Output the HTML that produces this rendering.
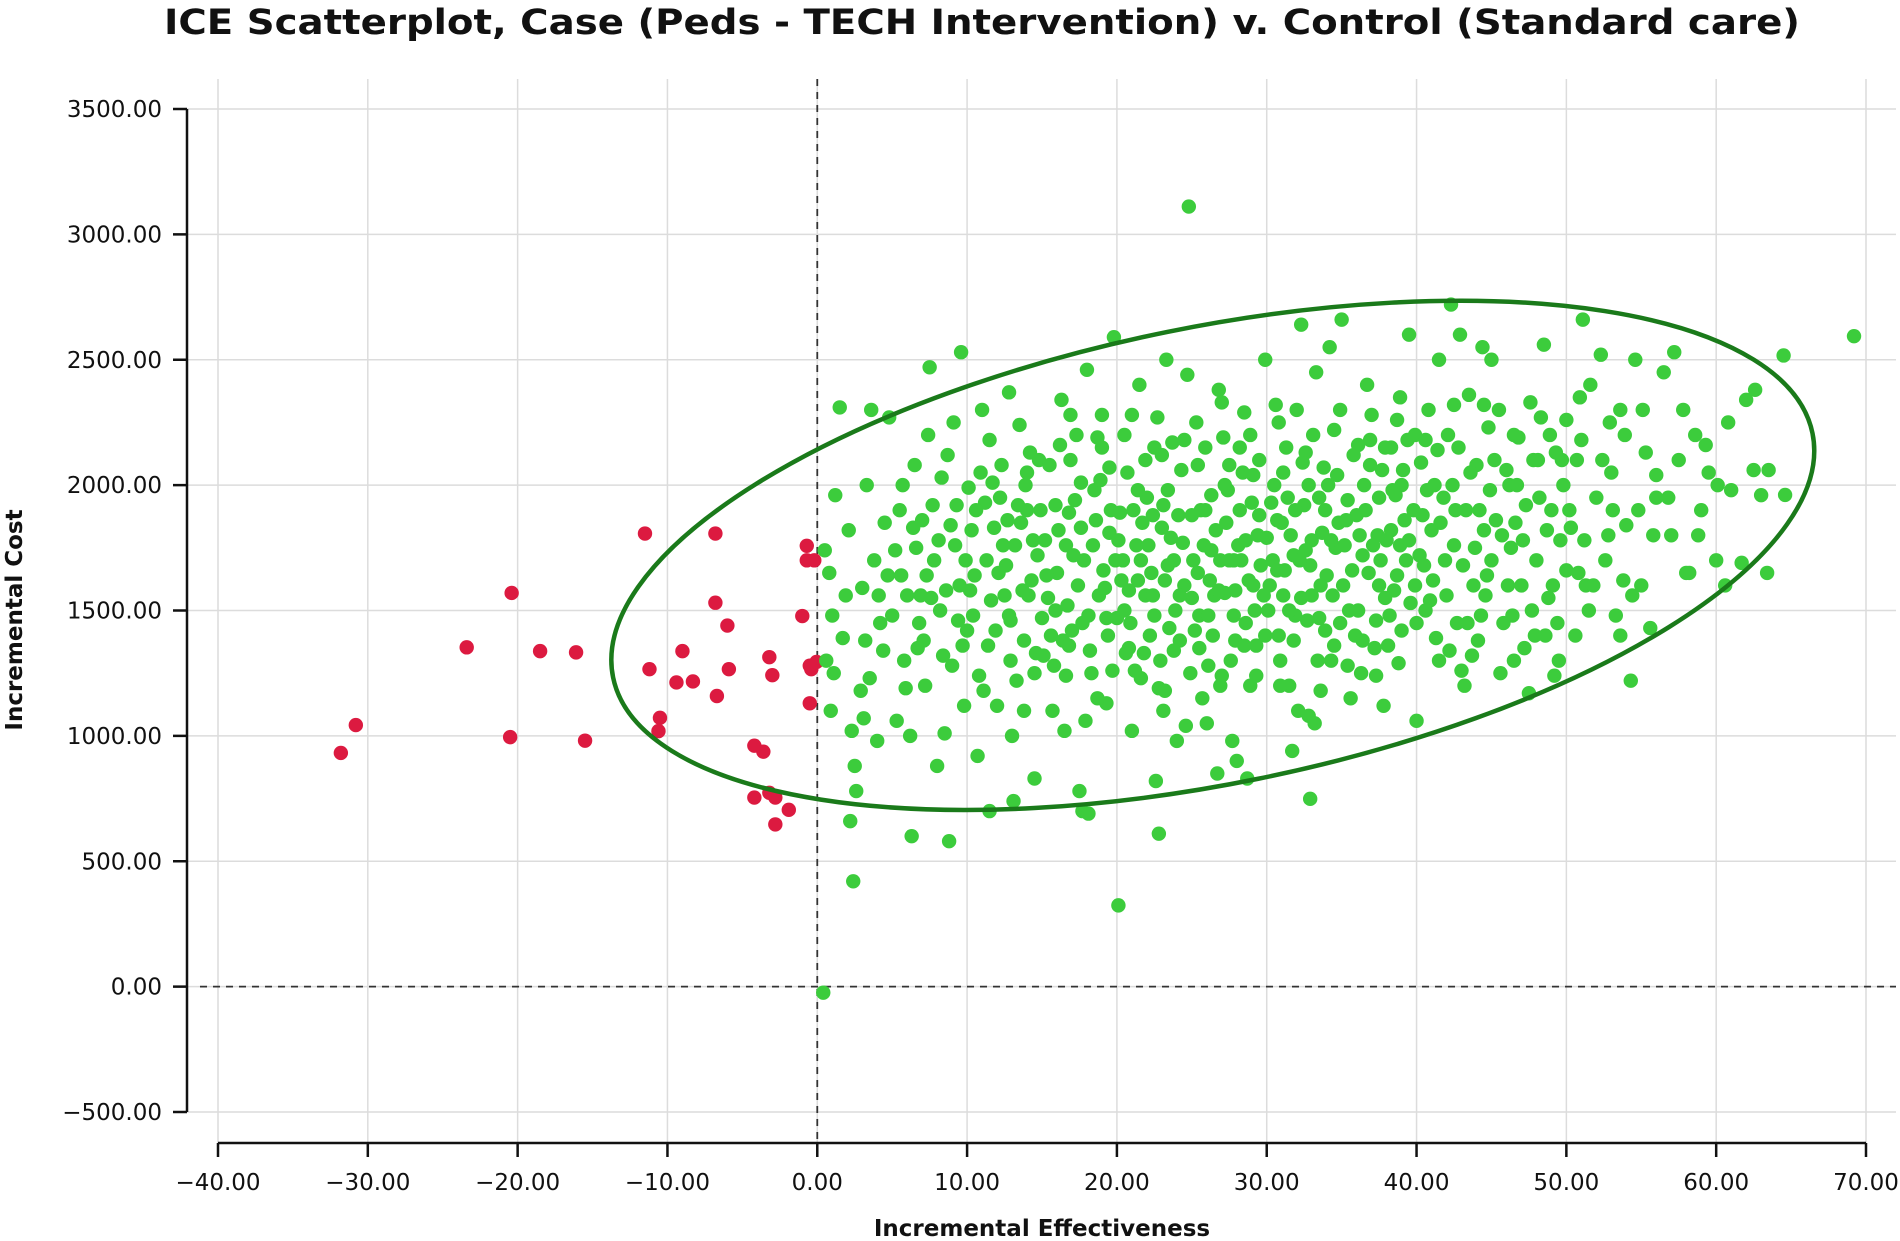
<!DOCTYPE html>
<html><head><meta charset="utf-8"><style>
html,body{margin:0;padding:0;background:#fff;}
svg{display:block;}
text{font-family:"DejaVu Sans","Liberation Sans",sans-serif;fill:#111;}
</style></head><body>
<svg id="chart" width="1900" height="1241" viewBox="0 0 1900 1241" xmlns="http://www.w3.org/2000/svg">
<text x="982" y="34" text-anchor="middle" font-size="35" font-weight="bold" textLength="1636" lengthAdjust="spacingAndGlyphs">ICE Scatterplot, Case (Peds - TECH Intervention) v. Control (Standard care)</text>
<g id="grid"></g>
<g id="axes"></g>
<g id="points"></g>
<text x="1042" y="1236" text-anchor="middle" font-size="23" font-weight="bold">Incremental Effectiveness</text>
<text transform="translate(22,620) rotate(-90)" text-anchor="middle" font-size="23" font-weight="bold">Incremental Cost</text>
</svg>
<script>
const xTicks=[-40,-30,-20,-10,0,10,20,30,40,50,60,70];
const yTicks=[-500,0,500,1000,1500,2000,2500,3000,3500];
const redX=[-31.8,-30.8,-23.4,-20.4,-20.5,-18.5,-16.1,-15.5,-11.5,-11.2,-10.5,-10.6,-9.4,-9.0,-8.3,-6.8,-6.8,-6.7,-6.0,-5.9,-4.2,-3.6,-4.2,-3.2,-2.8,-2.8,-1.9,-3.2,-3.0,-1.0,-0.7,-0.7,-0.2,-0.5,-0.4,-0.5,-0.05];
const redY=[932,1043,1353,1570,995,1338,1333,981,1807,1266,1072,1019,1213,1338,1217,1807,1531,1159,1440,1266,961,937,754,773,754,647,705,1314,1242,1478,1758,1700,1700,1130,1266,1280,1295];
const greenPts=[[0.5,1740],[0.8,1650],[1.0,1480],[1.2,1960],[1.5,2310],[0.6,1300],[0.9,1100],[1.7,1390],[2.1,1820],[2.3,1020],[2.5,880],[2.6,780],[3.0,1590],[3.3,2000],[3.5,1230],[3.8,1700],[4.0,980],[4.2,1450],[4.5,1850],[4.8,2270],[2.9,1180],[3.6,2300],[1.9,1560],[4.4,1340],[2.2,660],[2.4,420],[0.4,-24],[1.1,1250],[3.1,1070],[4.7,1640],
[5.2,1740],[5.5,1900],[5.8,1300],[6.0,1560],[6.3,600],[6.5,2080],[6.8,1450],[7.0,1860],[7.2,1200],[7.5,2470],[7.8,1700],[8.0,880],[8.3,2030],[8.6,1580],[8.8,580],[9.0,1280],[9.3,1920],[9.6,2530],[9.8,1120],[5.6,1640],[6.2,1000],[7.1,1380],[8.1,1780],[9.1,2250],[9.9,1700],[5.9,1190],[6.9,1560],[7.4,2200],[8.5,1010],[9.4,1460],[5.3,1060],[7.7,1920],[8.9,1840],[6.6,1750],[9.7,1360],
[10.1,1990],[10.4,1480],[10.8,1240],[11.0,2300],[11.3,1700],[11.5,700],[11.8,1830],[12.0,1120],[12.3,2080],[12.5,1560],[12.8,2370],[13.0,1000],[13.2,1760],[13.5,2240],[13.8,1380],[14.0,1900],[14.3,1620],[14.5,830],[14.8,2100],[15.0,1470],[10.3,1820],[10.7,920],[11.6,1540],[12.2,1950],[12.9,1300],[13.6,1850],[14.2,2130],[14.7,1720],[10.9,2050],[11.9,1420],[12.6,1680],[13.3,1220],[14.1,1560],[11.2,1930],[13.9,2000],[12.4,1760],[10.5,1640],[14.6,1330],[13.1,740],[12.7,1860],
[15.2,1780],[15.5,2080],[15.8,1280],[16.0,1650],[16.3,2340],[16.5,1020],[16.8,1890],[17.0,1420],[17.3,2200],[17.5,780],[17.8,1700],[18.0,2460],[18.3,1250],[18.5,1980],[18.8,1560],[19.0,2280],[19.3,1130],[19.5,1810],[19.8,2590],[20.0,1470],[15.4,1550],[15.9,1920],[16.4,1380],[16.9,2100],[17.4,1600],[17.9,1060],[18.4,1760],[18.9,2020],[19.4,1400],[19.9,1700],[15.7,1100],[16.6,1760],[17.2,1940],[18.2,1340],[19.2,1590],[16.2,2160],[17.7,700],[18.7,2190],[19.6,1900],[15.1,1320],[20.1,324],[18.1,690],[16.7,1520],[17.6,1830],[19.7,1260],
[20.2,1890],[20.5,2200],[20.8,1580],[21.0,1020],[21.3,1760],[21.5,2400],[21.8,1330],[22.0,1950],[22.3,1650],[22.5,2150],[22.8,1190],[23.0,1830],[23.3,2500],[23.5,1430],[23.8,1700],[24.0,980],[24.3,2060],[24.5,1600],[24.8,3111],[25.0,1880],[20.4,1700],[20.9,1450],[21.4,1980],[21.9,1560],[22.4,1880],[22.9,1300],[23.4,1980],[23.9,1500],[24.4,1770],[24.9,1250],[20.7,2050],[21.2,1260],[21.7,1850],[22.2,1400],[22.7,2270],[23.2,1620],[23.7,2170],[24.2,1380],[24.7,2440],[20.3,1620],[22.6,820],[23.1,1100],[22.8,610],[24.6,1040],[21.6,1700],[23.6,1790],[20.6,1330],[25.0,1550],
[25.3,2250],[25.5,1350],[25.8,1760],[26.0,1050],[26.3,1960],[26.5,1560],[26.8,2380],[27.0,1240],[27.3,1850],[27.5,2080],[27.8,1480],[28.0,900],[28.3,1700],[28.5,2290],[28.8,1620],[29.0,1930],[29.3,1360],[29.5,2100],[29.8,1560],[30.0,1790],[25.4,1650],[25.9,2150],[26.4,1400],[26.9,1700],[27.4,1980],[27.9,1580],[28.4,2050],[28.9,1200],[29.4,1800],[29.9,2500],[25.6,1900],[26.1,1280],[26.6,1820],[27.1,2190],[27.6,1300],[28.1,1760],[28.6,1450],[29.1,2040],[29.6,1680],[26.7,850],[27.7,980],[28.7,830],[25.7,1150],[27.2,1570],[29.2,1500],[26.2,1620],[28.2,1900],
[30.2,1600],[30.5,2000],[30.8,1400],[31.0,1850],[31.3,2150],[31.5,1200],[31.8,1720],[32.0,2300],[32.3,1550],[32.5,1920],[32.8,1080],[33.0,1780],[33.3,2450],[33.5,1470],[33.8,2070],[34.0,1640],[34.3,1300],[34.5,2220],[34.8,1850],[35.0,2660],[30.4,1700],[30.9,1200],[31.4,1950],[31.9,1480],[32.4,2090],[32.9,1680],[33.4,1300],[33.9,1900],[34.4,1560],[34.9,1450],[30.6,2320],[31.1,1560],[31.6,1800],[32.1,1100],[32.6,1740],[33.1,2200],[33.6,1600],[34.1,2000],[34.6,1750],[32.9,749],[31.7,940],[33.2,1050],[32.3,2640],[30.7,1860],[34.2,2550],[31.2,1660],[33.7,1810],
[35.2,1760],[35.5,1500],[35.8,2120],[36.0,1880],[36.3,1250],[36.5,2000],[36.8,1650],[37.0,2280],[37.3,1460],[37.5,1950],[37.8,1120],[38.0,1780],[38.3,2150],[38.5,1580],[38.8,1290],[39.0,2000],[39.3,1700],[39.5,2600],[39.8,1900],[40.0,1450],[35.4,1940],[35.9,1400],[36.4,1720],[36.9,2080],[37.4,1800],[37.9,1550],[38.4,1980],[38.9,1760],[39.4,2180],[39.9,1600],[35.6,1150],[36.2,1800],[36.7,2400],[37.2,1350],[37.7,2060],[38.2,1480],[38.7,2260],[39.2,1860],[35.1,1600],[40.0,1060],[36.1,2160],[37.6,1700],[38.6,1960],[39.6,1530],
[40.3,2090],[40.5,1680],[40.8,2300],[41.0,1820],[41.3,1390],[41.5,2500],[41.8,1950],[42.0,1560],[42.3,2720],[42.5,1760],[42.8,2150],[43.0,1260],[43.3,1900],[43.5,2360],[43.8,1600],[44.0,2080],[44.3,1480],[44.5,1820],[44.8,2230],[45.0,1700],[40.4,1880],[40.9,1540],[41.4,2140],[41.9,1700],[42.4,2000],[42.9,2600],[43.4,1450],[43.9,1750],[44.4,2550],[44.9,1980],[42.2,1340],[43.2,1200],[41.2,2000],[44.1,1380],[45.0,2500],
[45.3,1860],[45.5,2300],[45.8,1450],[46.0,2060],[46.3,1750],[46.5,1300],[46.8,2190],[47.0,1600],[47.3,1920],[47.5,1170],[47.8,2100],[48.0,1700],[48.3,2270],[48.5,2560],[48.8,1550],[49.0,1900],[49.3,2130],[49.5,1300],[49.8,2000],[50.0,1660],[45.6,1250],[46.6,1850],[47.6,2330],[48.6,1400],[49.6,1780],[46.2,2000],[47.2,1350],[48.2,1950],[49.2,1240],[50.0,2260],
[50.3,1830],[50.6,1400],[51.0,2180],[51.3,1600],[51.6,2400],[52.0,1950],[52.3,2520],[52.6,1700],[53.0,2050],[53.3,1480],[53.6,2300],[54.0,1840],[54.3,1220],[54.6,2500],[55.0,1600],[51.1,2660],[52.8,1800],[54.4,1560],[53.8,1620],[50.8,1650],
[55.3,2130],[55.6,1430],[56.0,1950],[56.5,2450],[57.0,1800],[57.5,2100],[58.0,1650],[58.6,2200],[59.0,1900],[59.5,2050],[60.0,1700],[60.6,1600],[61.0,1980],[61.7,1690],[62.0,2340],[62.5,2060],[63.0,1960],[63.4,1650],[64.5,2517],[64.6,1961],[69.2,2594],[57.2,2530],[58.2,1650],[59.3,2160],[62.6,2380],[60.1,2000],[56.0,2040],[63.5,2060],
[6.4,1830],[7.3,1640],[8.2,1500],[9.2,1760],[10.2,1580],[10.6,1900],[11.4,1360],[11.7,2010],[12.1,1650],[12.8,1480],[13.4,1920],[13.7,1580],[14.4,1780],[14.9,1900],[15.3,1640],[15.6,1400],[16.1,1820],[16.6,1240],[17.1,1720],[17.6,2010],[18.1,1480],[18.6,1860],[19.1,1660],[19.5,2070],[20.1,1780],[20.5,1500],[21.1,1900],[21.4,1620],[21.9,2100],[22.1,1760],[22.5,1480],[23.1,1920],[23.4,1680],[23.8,1340],[24.1,1880],[24.5,2180],[25.1,1700],[25.5,1480],[25.9,1900],[26.3,1740],[26.8,1580],[27.2,2000],[27.5,1700],[27.9,1380],[28.2,2150],[28.6,1780],[29.1,1600],[29.5,1880],[29.9,1400],[30.3,1930],[30.7,1660],[31.1,2050],[31.5,1500],[31.9,1900],[32.2,1700],[32.6,2130],[33.0,1560],[33.5,1950],[33.9,1420],[34.3,1780],[34.7,2040],[35.3,1860],[35.7,1660],[36.1,1500],[36.6,1900],[37.1,1760],[37.5,1600],[37.9,2150],[38.3,1820],[38.7,1640],[39.1,2060],[39.5,1780],[39.9,2200],[40.2,1720],[40.7,1980],[41.1,1620],[41.6,1850],[42.1,2200],[42.6,1900],[43.1,1680],[43.6,2050],[44.2,1900],[44.7,1640],[45.2,2100],[45.7,1800],[46.1,1600],[46.7,2000],[47.1,1780],[47.7,1500],[48.1,2100],[48.7,1820],[49.1,1600],[49.7,2100],[50.2,1900],[50.7,2100],[51.2,1780],[51.8,1600],[52.4,2100],[53.1,1900],[53.9,2200],[54.8,1900],[55.8,1800],[56.8,1950],[58.8,1800],
[3.2,1380],[4.1,1560],[5.0,1480],[5.7,2000],[6.7,1350],[7.6,1550],[8.4,1320],[9.5,1600],[10.0,1420],[11.1,1180],[12.9,1460],[13.8,1100],[14.5,1250],[15.9,1500],[16.8,1360],[17.7,1450],[18.7,1150],[19.3,1470],[20.8,1350],[21.6,1230],[22.4,1560],[23.2,1180],[24.2,1560],[25.2,1420],[26.1,1480],[26.9,1200],[27.8,1700],[28.5,1360],[29.3,1240],[30.1,1500],[30.9,1300],[31.8,1380],[32.7,1460],[33.6,1180],[34.5,1360],[35.4,1280],[36.4,1380],[37.3,1240],[38.1,1360],[39.0,1420],[40.6,1500],[41.5,1300],[42.7,1450],[43.7,1320],[44.6,1560],[46.4,1480],[47.9,1400],[49.4,1450],[51.5,1500],[53.6,1400],
[8.7,2120],[11.5,2180],[14.0,2050],[16.9,2280],[19.0,2150],[21.0,2280],[23.0,2120],[25.4,2080],[27.0,2330],[28.9,2200],[30.8,2250],[32.8,2000],[34.9,2300],[36.9,2180],[38.9,2350],[40.6,2180],[42.5,2320],[44.5,2320],[46.5,2200],[48.9,2200],[50.9,2350],[52.9,2250],[55.1,2300],[57.8,2300],[60.8,2250]];
const greenX=greenPts.map(p=>p[0]);
const greenY=greenPts.map(p=>p[1]);
const ellipseCenter=[26.4,1720];

const NS="http://www.w3.org/2000/svg";
const X0=218,X1=1866,Y0=1112,Y1=109;
function sx(v){return X0+(v-(-40))/(110)*(X1-X0);}
function sy(v){return Y0-(v-(-500))/(4000)*(Y0-Y1);}
function mk(tag,attrs,parent){const e=document.createElementNS(NS,tag);for(const k in attrs)e.setAttribute(k,attrs[k]);parent.appendChild(e);return e;}
const grid=document.getElementById('grid'),axes=document.getElementById('axes'),pts=document.getElementById('points');

xTicks.forEach(t=>{
  const l=mk('line',{x1:sx(t),x2:sx(t),y1:79,y2:1143,stroke:'#dcdcdc','stroke-width':1.5},grid);
  
  
  const tk=mk('line',{x1:sx(t),x2:sx(t),y1:1143,y2:1157,stroke:'#111','stroke-width':2.5},axes);
  
  
  const tx=mk('text',{x:sx(t),y:1190,'text-anchor':'middle','font-size':23},axes);
  tx.textContent=t.toFixed(2).replace('-','\u2212');
  
  
});
yTicks.forEach(t=>{
  const l=mk('line',{x1:187,x2:1896,y1:sy(t),y2:sy(t),stroke:'#dcdcdc','stroke-width':1.5},grid);
  
  
  const tk=mk('line',{x1:173,x2:187,y1:sy(t),y2:sy(t),stroke:'#111','stroke-width':2.5},axes);
  
  
  const tx=mk('text',{x:162,y:sy(t)+8,'text-anchor':'end','font-size':23},axes);
  tx.textContent=t.toFixed(2).replace('-','\u2212');
  
  
});
const ya=mk('line',{x1:187,x2:187,y1:sy(3500),y2:sy(-500),stroke:'#111','stroke-width':2.5},axes);


const xa=mk('line',{x1:sx(-40),x2:sx(70),y1:1143,y2:1143,stroke:'#111','stroke-width':2.5},axes);


const zv=mk('line',{x1:sx(0),x2:sx(0),y1:79,y2:1143,stroke:'#333','stroke-width':1.8,'stroke-dasharray':'7,6'},axes);


const zh=mk('line',{x1:200,x2:1896,y1:sy(0),y2:sy(0),stroke:'#333','stroke-width':1.8,'stroke-dasharray':'7,6'},axes);



redX.forEach((v,i)=>{
  const c=mk('circle',{cx:sx(v),cy:sy(redY[i]),r:7.2,fill:'#dc1a40'},pts);
  
  
});
greenX.forEach((v,i)=>{
  const c=mk('circle',{cx:sx(v),cy:sy(greenY[i]),r:7.2,fill:'#3ccc3c'},pts);
  
  
});
const ecx=sx(ellipseCenter[0]),ecy=sy(ellipseCenter[1]);
const el=mk('ellipse',{cx:ecx,cy:ecy,rx:612,ry:228,fill:'none',stroke:'#1a7a1a','stroke-width':4.5,transform:'rotate(-11.5 '+ecx+' '+ecy+')'},pts);


</script>
</body></html>
